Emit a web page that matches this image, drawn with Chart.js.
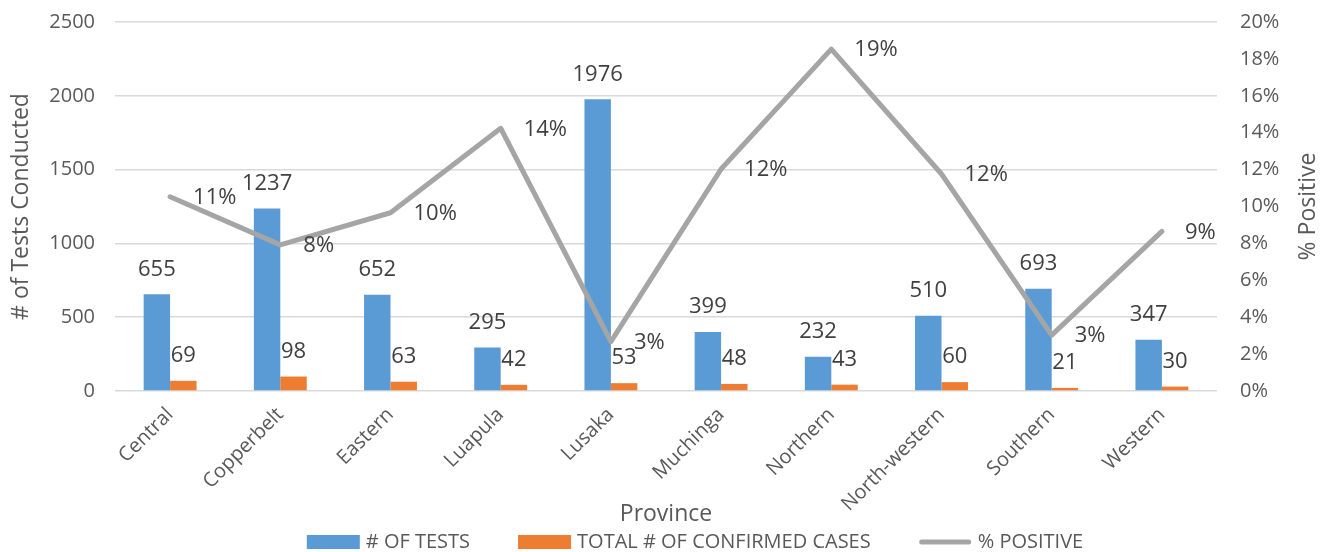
<!DOCTYPE html>
<html>
<head>
<meta charset="utf-8">
<script src="https://cdn.jsdelivr.net/npm/chart.js@4/dist/chart.umd.min.js"></script>
<style>
  body { margin: 0; background: #fff; }
  canvas { display: block; }
</style>
</head>
<body>
<canvas id="chart" width="1330" height="552"></canvas>
<script>
// data
const provinces = ['Central', 'Copperbelt', 'Eastern', 'Luapula', 'Lusaka', 'Muchinga', 'Northern', 'North-western', 'Southern', 'Western'];
const tests = [655, 1237, 652, 295, 1976, 399, 232, 510, 693, 347];
const confirmed = [69, 98, 63, 42, 53, 48, 43, 60, 21, 30];
const positive = [0.1053, 0.0792, 0.0966, 0.1424, 0.0268, 0.1203, 0.1853, 0.1176, 0.0303, 0.0865];
const seriesNames = ['# OF TESTS', 'TOTAL # OF CONFIRMED CASES', '% POSITIVE'];
const seriesColors = ['#5B9BD5', '#ED7D31', '#A5A5A5'];

const FONT = "'Open Sans', sans-serif";
const TEXT = '#595959';
const LABEL = '#404040';

// value labels above bars, percent labels right of the line points
const valueLabels = {
    id: 'valueLabels',
    afterDatasetsDraw(chart) {
        const ctx = chart.ctx;
        ctx.save();
        ctx.font = '22px ' + FONT;
        ctx.fillStyle = LABEL;
        ctx.textBaseline = 'middle';
        [0, 1].forEach(i => {
            const meta = chart.getDatasetMeta(i);
            ctx.textAlign = 'center';
            meta.data.forEach((el, j) => {
                ctx.fillText(chart.data.datasets[i].data[j], el.x, el.y - 25);
            });
        });
        const lineMeta = chart.getDatasetMeta(2);
        ctx.textAlign = 'left';
        lineMeta.data.forEach((el, j) => {
            const v = Math.round(positive[j] * 100) + '%';
            ctx.fillText(v, el.x + 23, el.y + 1);
        });
        ctx.restore();
    }
};

// right axis title reads bottom to top, legend drawn by hand
const extras = {
    id: 'extras',
    afterDraw(chart) {
        const ctx = chart.ctx;
        const area = chart.chartArea;
        ctx.save();
        ctx.font = '23px ' + FONT;
        ctx.fillStyle = TEXT;
        ctx.textAlign = 'center';
        ctx.textBaseline = 'middle';
        ctx.translate(1308, (area.top + area.bottom) / 2);
        ctx.rotate(-Math.PI / 2);
        ctx.fillText('% Positive', 0, 0);
        ctx.restore();

        ctx.save();
        ctx.font = '20px ' + FONT;
        ctx.textBaseline = 'middle';
        const boxW = 53, gap = 6, spacing = 48;
        const widths = seriesNames.map(n => boxW + gap + ctx.measureText(n).width);
        const total = widths.reduce((a, b) => a + b, 0) + spacing * (widths.length - 1);
        let x = 695 - total / 2;
        const y = 542;
        seriesNames.forEach((name, i) => {
            if (i < 2) {
                ctx.fillStyle = seriesColors[i];
                ctx.fillRect(x, y - 7, boxW, 14);
            } else {
                ctx.strokeStyle = seriesColors[i];
                ctx.lineWidth = 5;
                ctx.lineCap = 'round';
                ctx.beginPath();
                ctx.moveTo(x + 3, y);
                ctx.lineTo(x + boxW - 3, y);
                ctx.stroke();
            }
            ctx.fillStyle = TEXT;
            ctx.textAlign = 'left';
            ctx.fillText(name, x + boxW + gap, y);
            x += widths[i] + spacing;
        });
        ctx.restore();
    }
};

// keep the tick padding from pushing the plot area down
function fitWidth(w) {
    return s => {
        s.width = w;
        s.paddingTop = 0;
        s.paddingBottom = 0;
    };
}

const ctx = document.getElementById('chart').getContext('2d');
const chart = new Chart(ctx, {
    data: {
        labels: provinces,
        datasets: [
            {
                type: 'bar', label: seriesNames[0], data: tests, yAxisID: 'y',
                backgroundColor: seriesColors[0], categoryPercentage: 0.48, barPercentage: 1, order: 1
            },
            {
                type: 'bar', label: seriesNames[1], data: confirmed, yAxisID: 'y',
                backgroundColor: seriesColors[1], categoryPercentage: 0.48, barPercentage: 1, order: 1
            },
            {
                type: 'line', label: seriesNames[2], data: positive, yAxisID: 'y1',
                borderColor: seriesColors[2], borderWidth: 5, pointRadius: 0,
                borderJoinStyle: 'round', borderCapStyle: 'round', tension: 0, order: 0
            }
        ]
    },
    options: {
        responsive: false,
        animation: false,
        layout: { padding: { top: 22, bottom: 24, left: 0, right: 0 } },
        plugins: {
            legend: { display: false },
            tooltip: { enabled: false }
        },
        scales: {
            x: {
                grid: { display: false },
                border: { display: false },
                ticks: { color: TEXT, font: { family: FONT, size: 20 }, minRotation: 45, maxRotation: 45, padding: 4 },
                title: { display: true, text: 'Province', color: TEXT, font: { family: FONT, size: 23 }, padding: 0 },
                afterFit(s) { s.height = 137; }
            },
            y: {
                position: 'left',
                min: 0, max: 2500,
                ticks: { stepSize: 500, color: TEXT, font: { family: FONT, size: 20 }, padding: 20, callback: v => String(v) },
                grid: { color: '#D9D9D9', lineWidth: 1.5, drawTicks: false },
                border: { display: false },
                title: { display: true, text: '# of Tests Conducted', color: TEXT, font: { family: FONT, size: 23 }, padding: { top: 8 } },
                afterFit: fitWidth(115)
            },
            y1: {
                position: 'right',
                min: 0, max: 0.2,
                ticks: {
                    stepSize: 0.02, color: TEXT, font: { family: FONT, size: 20 }, padding: 23,
                    callback: v => Math.round(v * 100) + '%'
                },
                grid: { display: false, drawTicks: false },
                border: { display: false },
                afterFit: fitWidth(113)
            }
        }
    },
    plugins: [valueLabels, extras]
});
</script>
</body>
</html>
